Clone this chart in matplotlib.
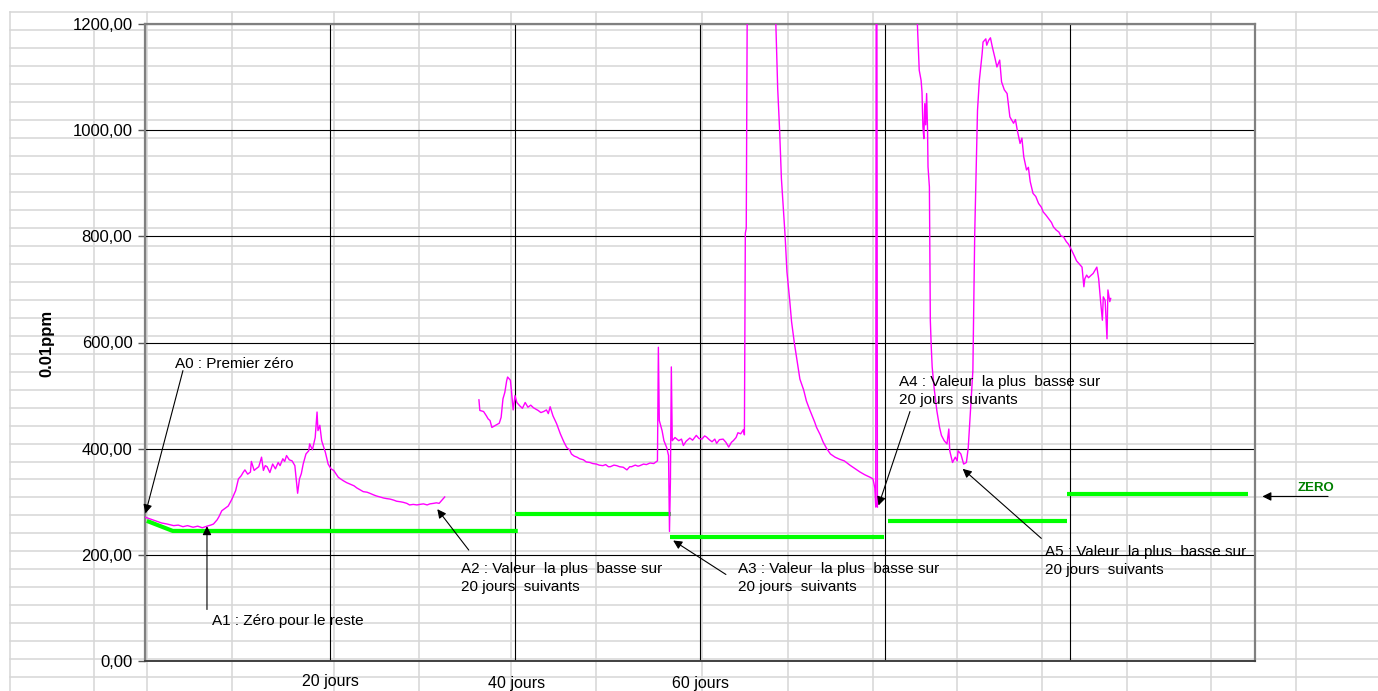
#!/usr/bin/env python3
"""Zero drift chart (0.01 ppm) re-drawn as an Excel-like sheet figure -> out.png"""

import numpy as np
import matplotlib
matplotlib.use("Agg")
import matplotlib.pyplot as plt
from matplotlib.lines import Line2D
from matplotlib.ticker import FuncFormatter, MultipleLocator

# ---------------------------------------------------------------------------
# Data (days, value in 0.01 ppm)
# ---------------------------------------------------------------------------

SEG_A = [(0.0, 271), (0.5, 268), (1.0, 265), (1.3, 263), (1.8, 260), (2.4, 258), (3.1, 255),
         (3.6, 256), (4.1, 253), (4.6, 255), (5.2, 252), (5.7, 254), (6.2, 251), (6.7, 254),
         (7.1, 256), (7.4, 258), (7.8, 266), (8.0, 272), (8.3, 283), (8.7, 288), (9.0, 292),
         (9.4, 305), (9.8, 321), (10.1, 343), (10.4, 349), (10.6, 355), (10.8, 360), (11.1, 352),
         (11.4, 356), (11.5, 376), (11.8, 359), (12.0, 362), (12.3, 366), (12.6, 384), (12.8, 359),
         (13.0, 368), (13.2, 366), (13.5, 355), (13.8, 371), (14.1, 362), (14.4, 374), (14.6, 368),
         (14.9, 381), (15.1, 376), (15.3, 387), (15.6, 379), (15.9, 377), (16.2, 368), (16.4, 333),
         (16.5, 316), (16.7, 343), (16.9, 353), (17.1, 371), (17.4, 390), (17.7, 396), (17.8, 409),
         (18.1, 398), (18.4, 421), (18.6, 469), (18.7, 434), (18.9, 444), (19.1, 415), (19.5, 393),
         (19.8, 371), (20.1, 362), (20.4, 359), (20.9, 346), (21.4, 340), (21.8, 336), (22.2, 333),
         (22.6, 330), (22.9, 326), (23.3, 322), (23.6, 319), (24.0, 318), (24.3, 316), (24.7, 313),
         (25.0, 311), (25.4, 309), (25.8, 307), (26.1, 306), (26.5, 305), (26.9, 303), (27.2, 301),
         (27.6, 300), (27.9, 299), (28.3, 297), (28.6, 294), (29.0, 295), (29.4, 294), (29.7, 295),
         (30.1, 296), (30.5, 294), (30.8, 296), (31.2, 297), (31.5, 298), (31.8, 297), (32.1, 303),
         (32.4, 309)]

SEG_B = [(36.1, 492), (36.2, 472), (36.6, 470), (36.9, 462), (37.1, 456), (37.3, 453), (37.5, 440),
         (37.8, 443), (38.1, 446), (38.3, 448), (38.5, 459), (38.7, 494), (38.9, 506), (39.1, 528),
         (39.2, 535), (39.5, 529), (39.6, 512), (39.8, 473), (40.0, 500), (40.2, 487), (40.5, 481),
         (40.8, 476), (41.1, 487), (41.4, 478), (41.7, 482), (42.0, 477), (42.3, 474), (42.5, 472),
         (42.8, 468), (43.1, 470), (43.4, 473), (43.6, 466), (43.8, 479), (44.1, 462), (44.5, 447),
         (44.9, 428), (45.3, 412), (45.6, 402), (45.9, 398), (46.1, 390), (46.4, 386), (46.7, 384),
         (47.0, 381), (47.4, 379), (47.7, 375), (48.1, 374), (48.4, 372), (48.8, 371), (49.1, 369),
         (49.5, 368), (49.8, 370), (50.1, 366), (50.3, 366), (50.7, 369), (51.0, 368), (51.3, 366),
         (51.7, 365), (52.1, 360), (52.4, 366), (52.6, 366), (53.0, 369), (53.3, 367), (53.5, 368),
         (53.9, 371), (54.2, 370), (54.6, 373), (55.0, 372), (55.4, 377), (55.5, 591), (55.6, 453),
         (55.9, 434), (56.1, 415), (56.4, 402), (56.6, 387), (56.7, 244), (56.8, 337), (56.9, 554)]

SEG_C = [(57.0, 415), (57.3, 421), (57.7, 415), (58.0, 418), (58.2, 406), (58.5, 414), (58.9, 420),
         (59.2, 416), (59.6, 425), (59.9, 419), (60.2, 418), (60.5, 424), (60.7, 422), (61.0, 417),
         (61.3, 413), (61.6, 418), (61.8, 410), (62.1, 417), (62.5, 418), (62.8, 412), (63.1, 403),
         (63.4, 412), (63.6, 415), (63.9, 421), (64.1, 430), (64.4, 428), (64.7, 436), (64.8, 426),
         (64.9, 806), (65.0, 815), (65.3, 2000), (68.0, 1800), (68.2, 1200), (68.4, 1078),
         (68.6, 1003), (68.8, 909), (69.0, 855), (69.2, 801), (69.4, 733), (69.7, 679), (69.9, 639),
         (70.2, 599), (70.5, 565), (70.8, 531), (71.2, 511), (71.5, 490), (71.8, 476), (72.1, 463),
         (72.4, 450), (72.6, 440), (73.0, 426), (73.3, 413), (73.7, 400), (74.1, 390), (74.6, 384),
         (75.1, 380), (75.6, 377), (76.2, 369), (76.7, 363), (77.3, 356), (77.8, 351), (78.4, 346),
         (78.7, 343), (78.9, 326), (79.0, 290), (79.08, 2000), (79.18, 290)]

SEG_D = [(83.5, 1200), (83.7, 1113), (83.9, 1094), (84.0, 1072), (84.1, 1006), (84.2, 984),
         (84.3, 1050), (84.4, 1010), (84.5, 1069), (84.6, 1000), (84.65, 931), (84.8, 893),
         (84.9, 642), (85.0, 592), (85.1, 554), (85.3, 516), (85.6, 472), (85.9, 440), (86.1, 425),
         (86.4, 415), (86.7, 409), (86.9, 437), (87.0, 396), (87.3, 374), (87.6, 384), (87.8, 377),
         (87.9, 396), (88.2, 390), (88.5, 371), (88.8, 374), (89.0, 402), (89.2, 459), (89.5, 547),
         (89.7, 805), (89.9, 962), (90.0, 1037), (90.2, 1094), (90.5, 1144), (90.6, 1166),
         (90.9, 1172), (91.0, 1160), (91.2, 1169), (91.4, 1174), (91.6, 1157), (91.9, 1135),
         (92.1, 1119), (92.4, 1132), (92.6, 1091), (92.9, 1076), (93.2, 1069), (93.5, 1025),
         (93.9, 1013), (94.1, 1020), (94.3, 1000), (94.6, 975), (94.8, 985), (95.0, 950),
         (95.3, 925), (95.5, 930), (95.7, 903), (96.0, 881), (96.3, 875), (96.6, 862), (96.9, 855),
         (97.1, 846), (97.4, 840), (97.7, 833), (98.0, 826), (98.2, 818), (98.5, 812), (98.8, 808),
         (99.0, 801), (99.3, 799), (99.6, 790), (99.8, 786), (100.0, 780), (100.2, 773),
         (100.5, 762), (100.7, 754), (101.0, 748), (101.3, 742), (101.5, 705), (101.6, 720),
         (101.8, 727), (102.0, 722), (102.3, 727), (102.5, 730), (102.7, 736), (102.9, 742),
         (103.1, 720), (103.3, 679), (103.5, 642), (103.6, 686), (103.8, 679), (104.0, 607),
         (104.1, 699), (104.3, 677), (104.4, 683)]

# "zero" reference levels (green)
ZERO_SEGS = [
    [(0.2, 264), (3.0, 245), (40.3, 245)],
    [(40.0, 277), (56.9, 277)],
    [(56.8, 234), (79.9, 234)],
    [(80.3, 263), (99.7, 263)],
    [(99.7, 315), (119.2, 315)],
]

X_LABELS = [(20, "20 jours"), (40.2, "40 jours"), (60, "60 jours")]

# (text, text position, arrow tail, arrow head)
NOTES = [
    ("A0 : Premier zéro", (3.24, 560), (4.1, 547), (0.05, 278)),
    ("A1 : Zéro pour le reste", (7.24, 75), (6.7, 97), (6.7, 254)),
    ("A2 : Valeur  la plus  basse sur\n20 jours  suivants", (34.2, 156), (35.0, 209), (31.6, 286)),
    ("A3 : Valeur  la plus  basse sur\n20 jours  suivants", (64.1, 156), (62.8, 163), (57.1, 227)),
    ("A4 : Valeur  la plus  basse sur\n20 jours  suivants", (81.5, 508), (82.7, 470), (79.3, 293)),
    ("A5 : Valeur  la plus  basse sur\n20 jours  suivants", (97.3, 188), (96.9, 231), (88.4, 362)),
]

# ---------------------------------------------------------------------------
# Style
# ---------------------------------------------------------------------------

W, H = 1378, 691
MAGENTA = "#ff00ff"
GREEN = "#00ff00"
SHEET = "#d6d6d6"
SHEET_COLS = [10, 94, 147, 232, 334, 419, 511, 596, 702, 788, 873, 957, 1042, 1127, 1211, 1296]

plt.rcParams["font.family"] = ["Liberation Sans", "DejaVu Sans"]


def xy(seg):
    a = np.array(seg, dtype=float)
    return a[:, 0], a[:, 1]


fig = plt.figure(figsize=(W / 100, H / 100), dpi=100)
fig.patch.set_facecolor("white")

# spreadsheet cells behind the chart
for k in range(38):
    yy = 1 - (12 + k * 17.98) / H
    fig.add_artist(Line2D([10 / W, 1], [yy, yy], transform=fig.transFigure,
                          color=SHEET, lw=1.1, zorder=-5))
for c in SHEET_COLS:
    top = 30 if c == 94 else 12
    fig.add_artist(Line2D([c / W, c / W], [0, 1 - top / H], transform=fig.transFigure,
                          color=SHEET, lw=1.1, zorder=-5))

ax = fig.add_axes([145 / W, 30 / H, 1110 / W, 637 / H])
ax.patch.set_alpha(0)

# green zero levels
for seg in ZERO_SEGS:
    zx, zy = xy(seg)
    ax.plot(zx, zy, color=GREEN, lw=3.0, solid_capstyle="butt", zorder=3)

# magenta measurement, gaps where there is no data
gap = [(np.nan, np.nan)]
mx, my = xy(SEG_A + gap + SEG_B + SEG_C + gap + SEG_D)
ax.plot(mx, my, color=MAGENTA, lw=1.0, zorder=4)

ax.set_xlim(0, 120)
ax.set_ylim(0, 1200)
ax.xaxis.set_major_locator(MultipleLocator(20))
ax.yaxis.set_major_locator(MultipleLocator(200))
ax.yaxis.set_major_formatter(FuncFormatter(lambda v, p: f"{v:.2f}".replace(".", ",")))
ax.grid(True, color="black", lw=0.8)
ax.set_axisbelow(True)
ax.tick_params(axis="x", length=0, labelbottom=False)
ax.tick_params(axis="y", length=5, width=1, color="#555555", labelsize=12, pad=4)

for side in ("top", "right", "left"):
    ax.spines[side].set_color("#808080")
    ax.spines[side].set_linewidth(1.6)
ax.spines["bottom"].set_color("#404040")
ax.spines["bottom"].set_linewidth(1.4)

# x labels, slightly staggered like the original, kept inside the sheet
for (day, lab), yoff in zip(X_LABELS, [-0.0325, -0.036, -0.036]):
    ax.text(day, yoff, lab, transform=ax.get_xaxis_transform(), ha="center", va="center",
            fontsize=11.5, clip_on=False)

fig.text(47 / W, 1 - 343 / H, "0.01ppm", rotation=90, fontweight="bold", fontsize=12,
         ha="center", va="center")

arrow = dict(arrowstyle="-|>", color="black", lw=0.8, mutation_scale=13, shrinkA=0, shrinkB=0)
for txt, tpos, tail, head in NOTES:
    ax.annotate("", xy=head, xytext=tail, arrowprops=arrow, zorder=6)
    ax.text(*tpos, txt, ha="left", va="center", fontsize=11, linespacing=1.35, zorder=6)

ax.annotate("", xy=(120.8, 310), xytext=(127.9, 310), arrowprops=arrow, annotation_clip=False)
ax.text(126.6, 326, "ZERO", color="#008000", fontweight="bold", fontsize=9.5,
        ha="center", va="center", clip_on=False)

fig.savefig("out.png", dpi=100)
